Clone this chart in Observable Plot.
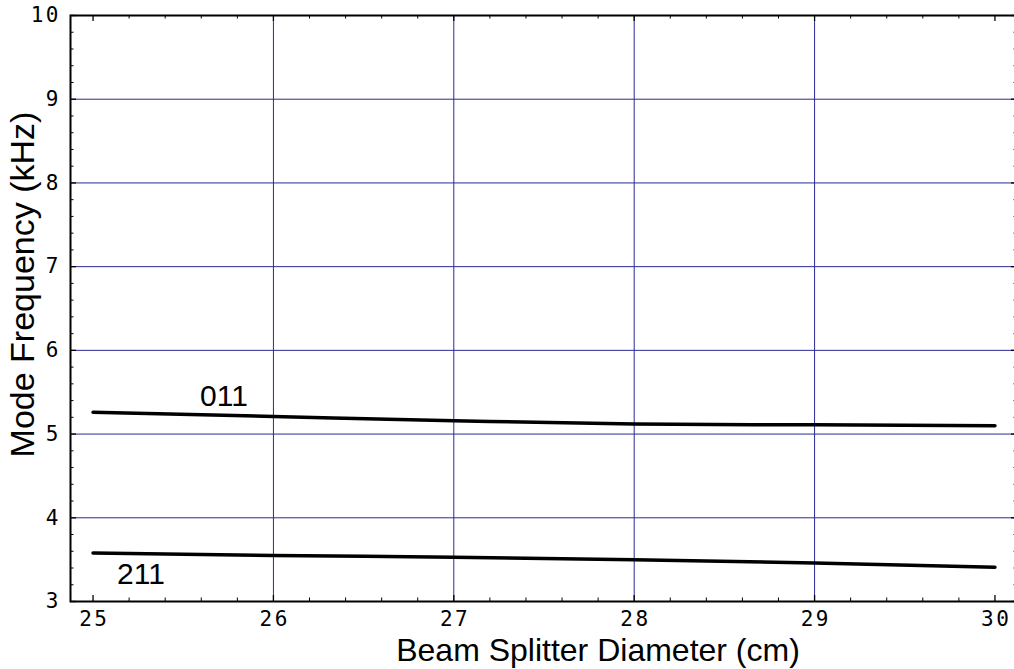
<!DOCTYPE html>
<html>
<head>
<meta charset="utf-8">
<script src="https://cdn.jsdelivr.net/npm/d3@7"></script>
<script src="https://cdn.jsdelivr.net/npm/@observablehq/plot@0.6"></script>
<style>
  html, body { margin: 0; padding: 0; background: white; }
</style>
</head>
<body>
<div id="chart"></div>
<script>
// Data
const diameters = [25, 26, 27, 28, 29, 30];
const mode011 = [5.26, 5.21, 5.16, 5.12, 5.11, 5.10];
const mode211 = [3.58, 3.55, 3.53, 3.50, 3.46, 3.41];
const seriesNames = ["011", "211"];
const xTicks = [25, 26, 27, 28, 29, 30];
const yTicks = [3, 4, 5, 6, 7, 8, 9, 10];
const xGrid = [26, 27, 28, 29];
const yGrid = [4, 5, 6, 7, 8, 9];
const xTitle = "Beam Splitter Diameter (cm)";
const yTitle = "Mode Frequency (kHz)";

const rows = [];
diameters.forEach((d, i) => {
  rows.push({x: d, y: mode011[i], s: seriesNames[0]});
  rows.push({x: d, y: mode211[i], s: seriesNames[1]});
});

const W = 1014, H = 669;
const mL = 70, mR = -3, mT = 15, mB = 68;
const pw = W - mL - mR, ph = H - mT - mB;

const xMinor = d3.range(25, 30.01, 0.2).filter(v => Math.abs(v - Math.round(v)) > 1e-6);
const yMinor = d3.range(3, 10.01, 0.2).filter(v => Math.abs(v - Math.round(v)) > 1e-6);

const gridColor = "#2a2a96";
const mono = "DejaVu Sans Mono";
const LS = 2.5;

const chart = Plot.plot({
  width: W,
  height: H,
  marginLeft: mL,
  marginRight: mR,
  marginTop: mT,
  marginBottom: mB,
  x: {domain: [24.875, 30.125], axis: null},
  y: {domain: [3, 10], axis: null},
  style: {fontFamily: "Liberation Sans", background: "white", overflow: "visible"},
  marks: [
    Plot.ruleX(xGrid, {x: d => d, stroke: gridColor, strokeWidth: 1}),
    Plot.ruleY(yGrid, {y: d => d, stroke: gridColor, strokeWidth: 1}),
    Plot.line(rows, {x: "x", y: "y", z: "s", stroke: "black", strokeWidth: 3.5, curve: "monotone-x"}),
    Plot.text([{x: 25.593, y: 5.23, s: seriesNames[0]}], {x: "x", y: "y", text: "s", dy: -18, fontSize: 30, fill: "black", textAnchor: "start", lineAnchor: "middle"}),
    Plot.text([{x: 25.133, y: 3.576, s: seriesNames[1]}], {x: "x", y: "y", text: "s", dy: 21, fontSize: 30, fill: "black", textAnchor: "start", lineAnchor: "middle"}),
    // ticks bottom/top
    Plot.tickX(xTicks, {x: d => d, insetTop: ph - 6, stroke: "black", strokeWidth: 1.3}),
    Plot.tickX(xTicks, {x: d => d, insetBottom: ph - 6, stroke: "black", strokeWidth: 1.3}),
    Plot.tickX(xMinor, {x: d => d, insetTop: ph - 3.5, stroke: "black", strokeWidth: 1}),
    Plot.tickX(xMinor, {x: d => d, insetBottom: ph - 3.5, stroke: "black", strokeWidth: 1}),
    // ticks left/right
    Plot.tickY(yTicks, {y: d => d, insetRight: pw - 6, stroke: "black", strokeWidth: 1.3}),
    Plot.tickY(yTicks, {y: d => d, insetLeft: pw - 6, stroke: "black", strokeWidth: 1.3}),
    Plot.tickY(yMinor, {y: d => d, insetRight: pw - 3.5, stroke: "black", strokeWidth: 1}),
    Plot.tickY(yMinor, {y: d => d, insetLeft: pw - 3.5, stroke: "black", strokeWidth: 1}),
    Plot.frame({stroke: "black", strokeWidth: 2}),
    // tick labels
    Plot.text(xTicks, {x: d => d, text: d => String(d), frameAnchor: "bottom", dx: LS / 2, dy: 18, fontSize: 21, fontFamily: mono, fill: "black", textAnchor: "middle", lineAnchor: "middle"}),
    Plot.text(yTicks, {y: d => d, text: d => String(d), frameAnchor: "left", dx: -12 + LS, fontSize: 21, fontFamily: mono, fill: "black", textAnchor: "end", lineAnchor: "middle"}),
    // axis titles
    Plot.text([xTitle], {text: d => d, frameAnchor: "bottom", dx: 54, dy: 49, fontSize: 32, fill: "black", textAnchor: "middle", lineAnchor: "middle"}),
    Plot.text([yTitle], {text: d => d, frameAnchor: "left", dx: -47, dy: -24, rotate: -90, fontSize: 34, fill: "black", textAnchor: "middle", lineAnchor: "middle"})
  ]
});
d3.select(chart).selectAll(`g[font-family="${mono}"]`).attr("letter-spacing", LS);
document.getElementById("chart").appendChild(chart);
</script>
</body>
</html>
